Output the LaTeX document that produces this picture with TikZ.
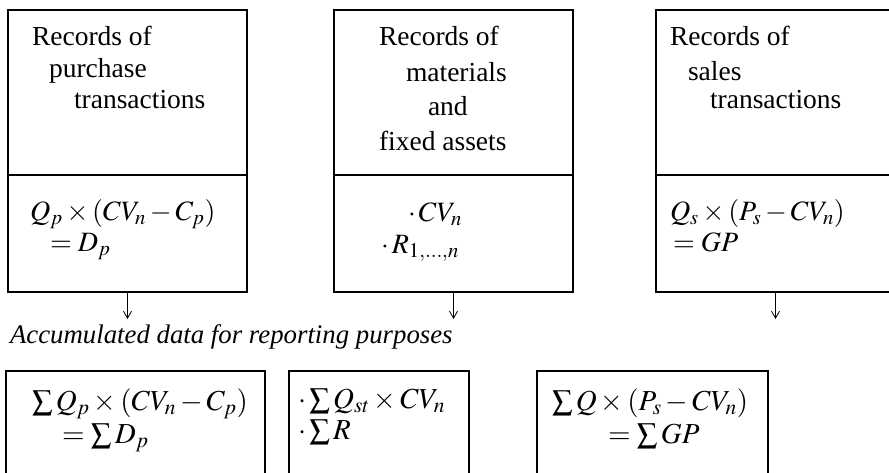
\documentclass[tikz,border=0pt]{standalone}
\usepackage{mathptmx}
\usepackage{fontspec}
\setmainfont{Liberation Serif}
\usetikzlibrary{arrows.meta}
\begin{document}
\begin{tikzpicture}[x=1pt,y=-1pt,
  every node/.style={inner sep=0pt, outer sep=0pt},
  txt/.style={anchor=base west, font=\fontsize{27.5}{32}\selectfont},
  ctxt/.style={anchor=base west, font=\fontsize{26.8}{32}\selectfont},
  mtxt/.style={anchor=base west, font=\fontsize{28}{32}\selectfont},
  stxt/.style={anchor=base west, font=\fontsize{29}{32}\selectfont},
  recbox/.style={draw, line width=1.3pt, anchor=north west, minimum width=239pt, minimum height=282pt},
  sumbox/.style={draw, line width=1.3pt, anchor=north west, minimum height=120pt},
  divline/.style={line width=1.1pt},
  flow/.style={line width=0.8pt, -{Straight Barb[length=7pt,width=8pt]}}]
\clip (0,0) rectangle (889,472);
\useasboundingbox (0,0) rectangle (889,472);

% top boxes
\node[recbox] (b1) at (8,10) {};
\node[recbox] (b2) at (334,10) {};
\node[recbox] (b3) at (656,10) {};
\draw[divline] (b1.north west) ++(0,165) -- ++(239,0);
\draw[divline] (b2.north west) ++(0,165) -- ++(239,0);
\draw[divline] (b3.north west) ++(0,165) -- ++(239,0);

% box 1 text
\node[txt] (b1l1) at (32,45) {Records of};
\node[txt] (b1l2) at (49,77) {purchase};
\node[txt] (b1l3) at (74,108) {transactions};
\node[mtxt] (b1e1) at (30,220) {$Q_p \times (CV_n - C_p)$};
\node[mtxt] (b1e2) at (50,251) {$= D_p$};

% box 2 text
\node[txt] (b2l1) at (379,45) {Records of};
\node[txt] (b2l2) at (406,81) {materials};
\node[txt] (b2l3) at (428,115) {and};
\node[txt] (b2l4) at (379,150) {fixed assets};
\node[mtxt] (b2e1) at (408,221) {${\cdot}\,CV_n$};
\node[mtxt] (b2e2) at (381,253) {${\cdot}\,R_{1,\ldots,n}$};

% box 3 text
\node[txt] (b3l1) at (670,45) {Records of};
\node[txt] (b3l2) at (688,80) {sales};
\node[txt] (b3l3) at (710,108) {transactions};
\node[mtxt] (b3e1) at (670,220) {$Q_s \times (P_s - CV_n)$};
\node[mtxt] (b3e2) at (673,251) {$= GP$};

% arrows
\coordinate (t1) at (127.5,319);
\coordinate (t2) at (453.5,319);
\coordinate (t3) at (775.5,319);
\draw[flow] (b1.south) -- (t1);
\draw[flow] (b2.south) -- (t2);
\draw[flow] (b3.south) -- (t3);

% caption
\node[ctxt] (cap) at (10,343) {\textit{Accumulated data for reporting purposes}};

% bottom boxes
\node[sumbox, minimum width=259pt] (s1) at (6,371) {};
\node[sumbox, minimum width=180pt] (s2) at (289,371) {};
\node[sumbox, minimum width=231pt] (s3) at (537,371) {};

\node[stxt] (s1e1) at (32,410) {$\textstyle\sum Q_p \times (CV_n - C_p)$};
\node[stxt] (s1e2) at (62,443) {$= \textstyle\sum D_p$};
\node[stxt] (s2e1) at (298,408) {${\cdot}\textstyle\sum Q_{st} \times CV_n$};
\node[stxt] (s2e2) at (298,439) {${\cdot}\textstyle\sum R$};
\node[stxt] (s3e1) at (552,410) {$\textstyle\sum Q \times (P_s - CV_n)$};
\node[stxt] (s3e2) at (608,443) {$= \textstyle\sum GP$};
\end{tikzpicture}
\end{document}
